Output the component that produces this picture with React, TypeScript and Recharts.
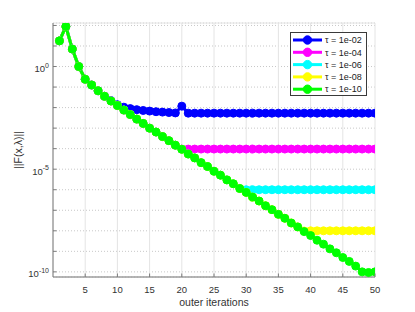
import React from 'react';
import { LineChart, Line, XAxis, YAxis, CartesianGrid, Label } from 'recharts';

// ---------- data (log10 of ||F(x,λ)||) ----------
const iterations = [
  1, 2, 3, 4, 5, 6, 7, 8, 9, 10,
  11, 12, 13, 14, 15, 16, 17, 18, 19, 20,
  21, 22, 23, 24, 25, 26, 27, 28, 29, 30,
  31, 32, 33, 34, 35, 36, 37, 38, 39, 40,
  41, 42, 43, 44, 45, 46, 47, 48, 49, 50,
];

const tau2Log = [
  1.25, 1.95, 0.85, 0.0, -0.62, -0.9, -1.18, -1.45, -1.66, -1.86,
  -1.98, -2.05, -2.1, -2.14, -2.17, -2.2, -2.22, -2.24, -2.26, -1.93,
  -2.27, -2.27, -2.27, -2.27, -2.27, -2.27, -2.27, -2.27, -2.27, -2.27,
  -2.27, -2.27, -2.27, -2.27, -2.27, -2.27, -2.27, -2.27, -2.27, -2.27,
  -2.27, -2.27, -2.27, -2.27, -2.27, -2.27, -2.27, -2.27, -2.27, -2.27,
];

const tau4Log = [
  1.25, 1.95, 0.85, 0.0, -0.62, -0.9, -1.18, -1.45, -1.68, -1.9,
  -2.12, -2.34, -2.56, -2.77, -3.0, -3.19, -3.41, -3.61, -3.83, -4.02,
  -4.02, -4.02, -4.02, -4.02, -4.02, -4.02, -4.02, -4.02, -4.02, -4.02,
  -4.02, -4.02, -4.02, -4.02, -4.02, -4.02, -4.02, -4.02, -4.02, -4.02,
  -4.02, -4.02, -4.02, -4.02, -4.02, -4.02, -4.02, -4.02, -4.02, -4.02,
];

const tau6Log = [
  1.25, 1.95, 0.85, 0.0, -0.62, -0.9, -1.18, -1.45, -1.68, -1.9,
  -2.12, -2.34, -2.56, -2.77, -3.0, -3.19, -3.41, -3.61, -3.83, -4.03,
  -4.26, -4.45, -4.68, -4.87, -5.1, -5.29, -5.52, -5.71, -5.94, -6.0,
  -6.0, -6.0, -6.0, -6.0, -6.0, -6.0, -6.0, -6.0, -6.0, -6.0,
  -6.0, -6.0, -6.0, -6.0, -6.0, -6.0, -6.0, -6.0, -6.0, -6.0,
];

const tau8Log = [
  1.25, 1.95, 0.85, 0.0, -0.62, -0.9, -1.18, -1.45, -1.68, -1.9,
  -2.12, -2.34, -2.56, -2.77, -3.0, -3.19, -3.41, -3.61, -3.83, -4.03,
  -4.26, -4.45, -4.68, -4.87, -5.1, -5.29, -5.52, -5.71, -5.94, -6.13,
  -6.36, -6.55, -6.78, -6.97, -7.2, -7.39, -7.62, -7.81, -8.01, -8.0,
  -8.0, -8.0, -8.0, -8.0, -8.0, -8.0, -8.0, -8.0, -8.0, -8.0,
];

const tau10Log = [
  1.25, 1.95, 0.85, 0.0, -0.62, -0.9, -1.18, -1.45, -1.68, -1.9,
  -2.12, -2.34, -2.56, -2.77, -3.0, -3.19, -3.41, -3.61, -3.83, -4.03,
  -4.26, -4.45, -4.68, -4.87, -5.1, -5.29, -5.52, -5.71, -5.94, -6.13,
  -6.36, -6.55, -6.78, -6.97, -7.2, -7.39, -7.62, -7.81, -8.04, -8.23,
  -8.46, -8.65, -8.88, -9.07, -9.3, -9.49, -9.72, -10.0, -10.03, -10.0,
];

const seriesNames = ['τ = 1e-02', 'τ = 1e-04', 'τ = 1e-06', 'τ = 1e-08', 'τ = 1e-10'];
const seriesColors = ['#0000ff', '#ff00ff', '#00ffff', '#ffff00', '#00ff00'];
const seriesLogs = [tau2Log, tau4Log, tau6Log, tau8Log, tau10Log];
const seriesKeys = ['t2', 't4', 't6', 't8', 't10'];

const xTicks = [5, 10, 15, 20, 25, 30, 35, 40, 45, 50];
const xDomain = [0, 50];
const yMajorTicks = [1e-10, 1e-5, 1e0];
const yDecadeTicks = [1e-10, 1e-9, 1e-8, 1e-7, 1e-6, 1e-5, 1e-4, 1e-3, 1e-2, 1e-1, 1e0, 1e1, 1e2];
const yDomain = [Math.pow(10, -10.25), Math.pow(10, 2.12)];

const xLabel = 'outer iterations';
const yLabel = '||F(x,λ)||';

const data = iterations.map((it, i) => {
  const row: Record<string, number> = { it };
  seriesKeys.forEach((k, s) => {
    row[k] = Math.pow(10, seriesLogs[s][i]);
  });
  return row;
});

// ---------- styles ----------
const FONT = '"Liberation Sans", Arial, Helvetica, sans-serif';
const AXIS = '#7a7a7a';
const TEXT = '#333333';
const TL = 3.5;

const BottomTick = (props: any) => {
  const { x, y, payload } = props;
  return (
    <g>
      <line x1={x} x2={x} y1={y} y2={y - TL} stroke={AXIS} strokeWidth={1} />
      <text x={x} y={y + 16} textAnchor="middle" fontSize={9.5} fill={TEXT} fontFamily={FONT}>
        {payload.value}
      </text>
    </g>
  );
};

const TopTick = (props: any) => {
  const { x, y } = props;
  return <line x1={x} x2={x} y1={y} y2={y + TL} stroke={AXIS} strokeWidth={1} />;
};

const LeftTick = (props: any) => {
  const { x, y, payload } = props;
  const v = payload.value;
  const isMajor = yMajorTicks.some((m) => Math.abs(Math.log10(m) - Math.log10(v)) < 1e-6);
  const exp = Math.round(Math.log10(v));
  return (
    <g>
      <line x1={x} x2={x + TL} y1={y} y2={y} stroke={AXIS} strokeWidth={1} />
      {isMajor && (
        <text x={x - 4} y={y + 5.5} textAnchor="end" fontSize={9.5} fill={TEXT} fontFamily={FONT}>
          <tspan>10</tspan>
          <tspan dy={-4.5} fontSize={7}>{String(exp)}</tspan>
        </text>
      )}
    </g>
  );
};

const RightTick = (props: any) => {
  const { x, y } = props;
  return <line x1={x} x2={x - TL} y1={y} y2={y} stroke={AXIS} strokeWidth={1} />;
};

const YLabel = (props: any) => {
  const vb = props.viewBox || {};
  const cy = vb.y + vb.height / 2;
  const cx = vb.x + 22;
  return (
    <text
      x={cx}
      y={cy}
      transform={`rotate(-90 ${cx} ${cy})`}
      textAnchor="middle"
      fontSize={10.5}
      fill={TEXT}
      fontFamily={FONT}
    >
      {yLabel}
    </text>
  );
};

const XLabel = (props: any) => {
  const vb = props.viewBox || {};
  const cx = vb.x + vb.width / 2;
  const by = vb.y + 29;
  return (
    <text x={cx} y={by} textAnchor="middle" fontSize={10.5} fill={TEXT} fontFamily={FONT}>
      {xLabel}
    </text>
  );
};

const LegendBox = () => {
  const rowH = 12.3;
  return (
    <svg
      width={77}
      height={64}
      style={{ position: 'absolute', left: 290, top: 32, overflow: 'visible' }}
    >
      <rect x={0.5} y={0.5} width={76} height={63} fill="#ffffff" stroke="#3a3a3a" strokeWidth={1} />
      {seriesNames.map((name, i) => {
        const cy = 8 + i * rowH;
        return (
          <g key={name}>
            <line x1={3} x2={32} y1={cy} y2={cy} stroke={seriesColors[i]} strokeWidth={3} />
            <circle cx={17.5} cy={cy} r={4.2} fill={seriesColors[i]} stroke={seriesColors[i]} strokeWidth={1} />
            <text x={35} y={cy + 3.2} fontSize={9} fill="#222" fontFamily={FONT}>
              {name}
            </text>
          </g>
        );
      })}
    </svg>
  );
};

export default function App() {
  return (
    <div
      style={{
        position: 'absolute',
        left: 0,
        top: 0,
        width: 415,
        height: 312,
        background: '#ffffff',
      }}
    >
      <LineChart
        width={415}
        height={312}
        data={data}
        margin={{ top: 23, right: 40, bottom: 0, left: 0 }}
      >
        <CartesianGrid
          yAxisId="right"
          vertical={false}
          stroke="#c8c8c8"
          strokeDasharray="1 2"
        />
        <CartesianGrid yAxisId="major" stroke="#e4e4e4" strokeDasharray="" />
        <XAxis
          dataKey="it"
          type="number"
          domain={xDomain}
          ticks={xTicks}
          allowDataOverflow
          height={35}
          tickSize={0}
          tickMargin={0}
          tickLine={false}
          axisLine={{ stroke: AXIS }}
          tick={<BottomTick />}
          label={<Label content={<XLabel />} />}
        />
        <XAxis
          xAxisId="top"
          orientation="top"
          dataKey="it"
          type="number"
          domain={xDomain}
          ticks={xTicks}
          allowDataOverflow
          height={0}
          tickSize={0}
          tickMargin={0}
          tickLine={false}
          axisLine={{ stroke: AXIS }}
          tick={<TopTick />}
        />
        <YAxis
          yAxisId="left"
          scale="log"
          type="number"
          domain={yDomain}
          ticks={yDecadeTicks}
          allowDataOverflow
          width={53}
          tickSize={0}
          tickMargin={0}
          tickLine={false}
          axisLine={{ stroke: AXIS }}
          tick={<LeftTick />}
          interval={0}
          label={<Label content={<YLabel />} />}
        />
        <YAxis
          yAxisId="right"
          orientation="right"
          scale="log"
          type="number"
          domain={yDomain}
          ticks={yDecadeTicks}
          allowDataOverflow
          width={0}
          tickSize={0}
          tickMargin={0}
          tickLine={false}
          axisLine={{ stroke: AXIS }}
          tick={<RightTick />}
          interval={0}
        />
        <YAxis
          yAxisId="major"
          orientation="right"
          scale="log"
          type="number"
          domain={yDomain}
          ticks={yMajorTicks}
          allowDataOverflow
          width={0}
          tick={false}
          tickLine={false}
          axisLine={false}
        />
        {seriesKeys.map((k, i) => (
          <Line
            key={k}
            yAxisId="left"
            dataKey={k}
            name={seriesNames[i]}
            type="linear"
            stroke={seriesColors[i]}
            strokeWidth={3}
            dot={{ r: 4, fill: seriesColors[i], stroke: seriesColors[i], strokeWidth: 1 }}
            activeDot={false}
            isAnimationActive={false}
          />
        ))}
      </LineChart>
      <LegendBox />
    </div>
  );
}
